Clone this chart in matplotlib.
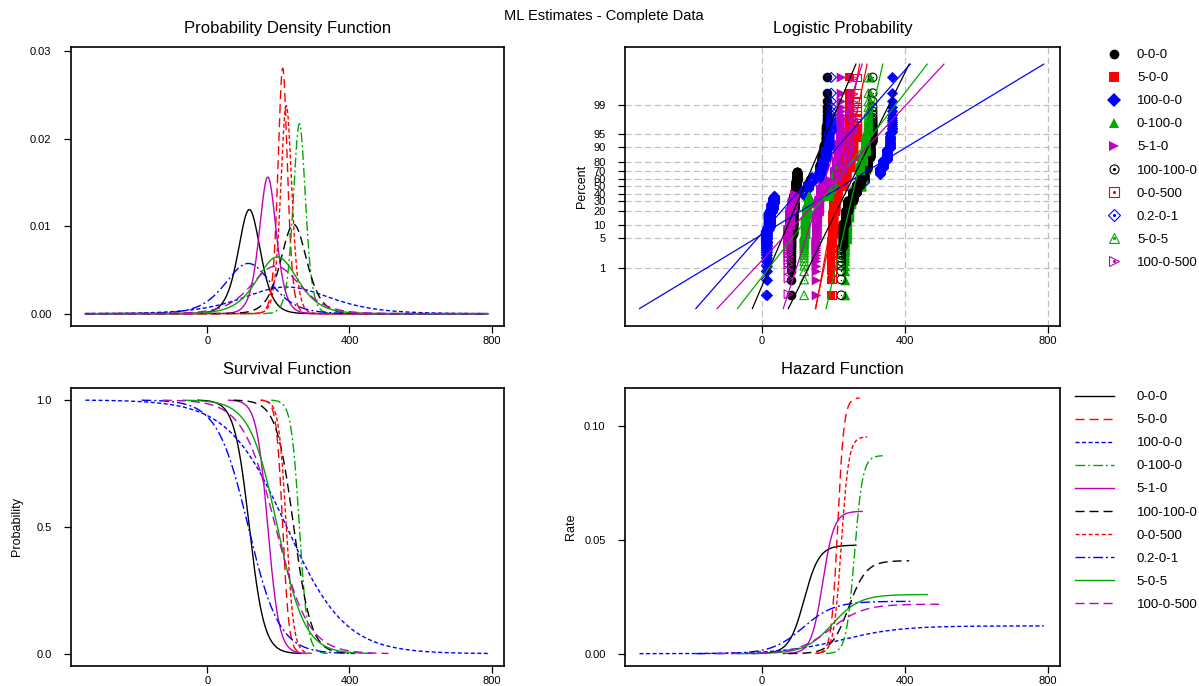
import numpy as np
import matplotlib
matplotlib.use("Agg")
import matplotlib.pyplot as plt
from matplotlib.lines import Line2D
from matplotlib.legend_handler import HandlerTuple

plt.rcParams['font.family'] = ['Liberation Sans', 'DejaVu Sans']
plt.rcParams['lines.scale_dashes'] = False

groups = ['0-0-0', '5-0-0', '100-0-0', '0-100-0', '5-1-0',
          '100-100-0', '0-0-500', '0.2-0-1', '5-0-5', '100-0-500']

# ML estimates of the logistic fit (location, scale) per group
loc = [118, 212, 223, 259, 170, 243, 222, 115, 197, 192]
scale = [21.0, 8.9, 82.0, 11.5, 16.0, 24.5, 10.5, 43.5, 38.5, 46.0]

# observed times per group as tied values and their counts
t_000 = [82, 86, 90, 94, 98, 163, 168, 173, 178, 183]
n_000 = [20, 50, 60, 60, 41, 25, 25, 20, 19, 10]
t_500 = [192, 196, 200, 205, 212, 220, 228, 236, 244]
n_500 = [15, 40, 50, 50, 40, 40, 40, 35, 20]
t_10000 = [15, 22, 30, 255, 270, 285, 330, 340, 350, 358, 365]
n_10000 = [30, 40, 45, 35, 35, 35, 25, 25, 25, 20, 15]
t_01000 = [233, 238, 243, 248, 254, 278, 284, 290, 296, 302]
n_01000 = [15, 35, 40, 40, 35, 35, 40, 40, 35, 15]
t_510 = [150, 155, 160, 165, 170, 205, 210, 216, 222]
n_510 = [15, 40, 50, 50, 43, 35, 35, 35, 27]
t_1001000 = [222, 228, 235, 242, 256, 266, 276, 286, 296, 304, 310]
n_1001000 = [10, 25, 30, 35, 35, 35, 35, 35, 35, 30, 25]
t_00500 = [196, 200, 205, 210, 226, 236, 246, 256, 265]
n_00500 = [20, 45, 50, 50, 40, 40, 35, 30, 20]
t_0201 = [12, 20, 28, 35, 120, 130, 140, 165, 172, 180, 188, 194]
n_0201 = [25, 35, 30, 30, 30, 30, 25, 35, 30, 25, 20, 15]
t_505 = [118, 122, 126, 132, 188, 195, 202, 208, 275, 283, 291, 298]
n_505 = [20, 35, 35, 30, 30, 30, 30, 25, 30, 25, 25, 15]
t_1000500 = [74, 80, 86, 92, 175, 190, 215, 225, 235, 245, 255]
n_1000500 = [25, 35, 30, 30, 30, 30, 30, 30, 30, 25, 15]

times = [t_000, t_500, t_10000, t_01000, t_510, t_1001000, t_00500, t_0201, t_505, t_1000500]
counts = [n_000, n_500, n_10000, n_01000, n_510, n_1001000, n_00500, n_0201, n_505, n_1000500]

green = '#00AA00'
magenta = '#C000C0'
palette = ['black', 'red', 'blue', green, magenta]
colors = [palette[i % 5] for i in range(10)]
dash_styles = ['-', (0, (6.5, 3.6)), (0, (2.9, 1.8)), (0, (7.0, 2.2, 1.4, 2.2))]
styles = [dash_styles[i % 4] for i in range(10)]
shapes = ['o', 's', 'D', '^', '>']
sizes = [48, 40, 32, 48, 48]


def cdf(x, m, s):
    return 1.0 / (1.0 + np.exp(-(x - m) / s))


def logit(p):
    return np.log(p / (1 - p))


W, H = 1199, 686
fig = plt.figure(figsize=(W / 100, H / 100), dpi=100)


def box(l, t, r, b):
    return [l / W, 1 - b / H, (r - l) / W, (b - t) / H]


ax_pdf = fig.add_axes(box(71, 47, 504, 326))
ax_prob = fig.add_axes(box(625, 47, 1060, 326))
ax_surv = fig.add_axes(box(71, 388, 504, 666))
ax_haz = fig.add_axes(box(625, 388, 1060, 666))

q = logit(np.array([0.001, 0.999]))
lo = min(m + s * q[0] for m, s in zip(loc, scale))
hi = max(m + s * q[1] for m, s in zip(loc, scale))
grid_all = np.linspace(lo, hi, 800)

for i in range(10):
    m, s = loc[i], scale[i]
    c, ls = colors[i], styles[i]
    F = cdf(grid_all, m, s)
    ax_pdf.plot(grid_all, F * (1 - F) / s, color=c, ls=ls, lw=1.0)
    xs = np.linspace(m + s * q[0], m + s * q[1], 400)
    F = cdf(xs, m, s)
    ax_surv.plot(xs, 1 - F, color=c, ls=ls, lw=1.0)
    ax_haz.plot(xs, F / s, color=c, ls=ls, lw=1.0)

# probability plot: median ranks against sorted times
ax_prob.set_yscale('logit')
for i in range(10):
    x = np.repeat(times[i], counts[i]).astype(float)
    n = len(x)
    p = (np.arange(1, n + 1) - 0.3) / (n + 0.4)
    c = colors[i]
    mk = shapes[i % 5]
    if i < 5:
        ax_prob.scatter(x, p, marker=mk, s=sizes[i % 5], color=c, linewidths=0, zorder=3)
    else:
        ax_prob.scatter(x, p, marker=mk, s=sizes[i % 5] * 0.8, facecolors='none',
                        edgecolors=c, linewidths=0.8, zorder=3)
        ax_prob.scatter(x, p, marker='.', s=3, color=c, linewidths=0, zorder=3)

for i in range(10):
    m, s = loc[i], scale[i]
    ax_prob.plot(m + s * q, [0.001, 0.999], color=colors[i], lw=0.9, zorder=4)

pct = [1, 5, 10, 20, 30, 40, 50, 60, 70, 80, 90, 95, 99]
ax_prob.set_ylim(0.000374, 0.99962)
ax_prob.set_yticks([v / 100 for v in pct])
ax_prob.set_yticklabels([str(v) for v in pct])
ax_prob.yaxis.set_minor_locator(plt.NullLocator())
ax_prob.grid(True, color='#C0C0C0', ls=(0, (4.5, 2.5)), lw=0.9, zorder=0)
ax_prob.set_axisbelow(True)

ax_pdf.set_ylim(-0.00141, 0.0305)
ax_pdf.set_yticks([0.0, 0.01, 0.02, 0.03])
ax_pdf.set_yticklabels(['0.00', '0.01', '0.02', '0.03'])
ax_surv.set_ylim(-0.0485, 1.047)
ax_surv.set_yticks([0.0, 0.5, 1.0])
ax_surv.set_yticklabels(['0.0', '0.5', '1.0'])
ax_haz.set_ylim(-0.0054, 0.1166)
ax_haz.set_yticks([0.0, 0.05, 0.10])
ax_haz.set_yticklabels(['0.00', '0.05', '0.10'])

titles = ['Probability Density Function', 'Logistic Probability',
          'Survival Function', 'Hazard Function']
for ax, title in zip([ax_pdf, ax_prob, ax_surv, ax_haz], titles):
    ax.set_xlim(-384, 835)
    ax.set_xticks([0, 400, 800])
    ax.set_xticklabels(['0', '400', '800'])
    ax.set_title(title, fontsize=12, pad=10)
    ax.tick_params(direction='out', length=5, width=0.9, labelsize=8, pad=2)
    ax.tick_params(axis='y', pad=9)
    for sp in ax.spines.values():
        sp.set_linewidth(1.2)

ax_prob.set_ylabel('Percent', fontsize=9)
ax_prob.yaxis.set_label_coords(-0.085, 0.5)
ax_surv.set_ylabel('Probability', fontsize=9)
ax_surv.yaxis.set_label_coords(-0.11, 0.5)
ax_haz.set_ylabel('Rate', fontsize=9)
ax_haz.yaxis.set_label_coords(-0.11, 0.5)

fig.text(604 / W, 1 - 16 / H, 'ML Estimates - Complete Data', fontsize=10.5,
         ha='center', va='center')

# legend with point symbols
mk_handles = []
for i in range(10):
    c = colors[i]
    mk = shapes[i % 5]
    if i < 5:
        mk_handles.append(Line2D([], [], marker=mk, color=c, ls='none', ms=7, mew=0))
    else:
        mk_handles.append((Line2D([], [], marker=mk, mfc='none', mec=c, ls='none', ms=6.5, mew=0.8),
                           Line2D([], [], marker='.', color=c, ls='none', ms=2.5)))
fig.legend(mk_handles, groups, loc='upper left', bbox_to_anchor=(1108.7 / W, 1 - 49 / H),
           frameon=False, fontsize=9.5, handlelength=0.8, handletextpad=1.34,
           labelspacing=0.82, borderpad=0, borderaxespad=0,
           handler_map={tuple: HandlerTuple(ndivide=1)})

# legend with line styles
ln_handles = [Line2D([], [], color=colors[i], ls=styles[i], lw=1.0) for i in range(10)]
fig.legend(ln_handles, groups, loc='upper left', bbox_to_anchor=(1075 / W, 1 - 391 / H),
           frameon=False, fontsize=9.5, handlelength=2.95, handletextpad=1.74,
           labelspacing=0.82, borderpad=0, borderaxespad=0)

fig.savefig('out.png', dpi=100)
